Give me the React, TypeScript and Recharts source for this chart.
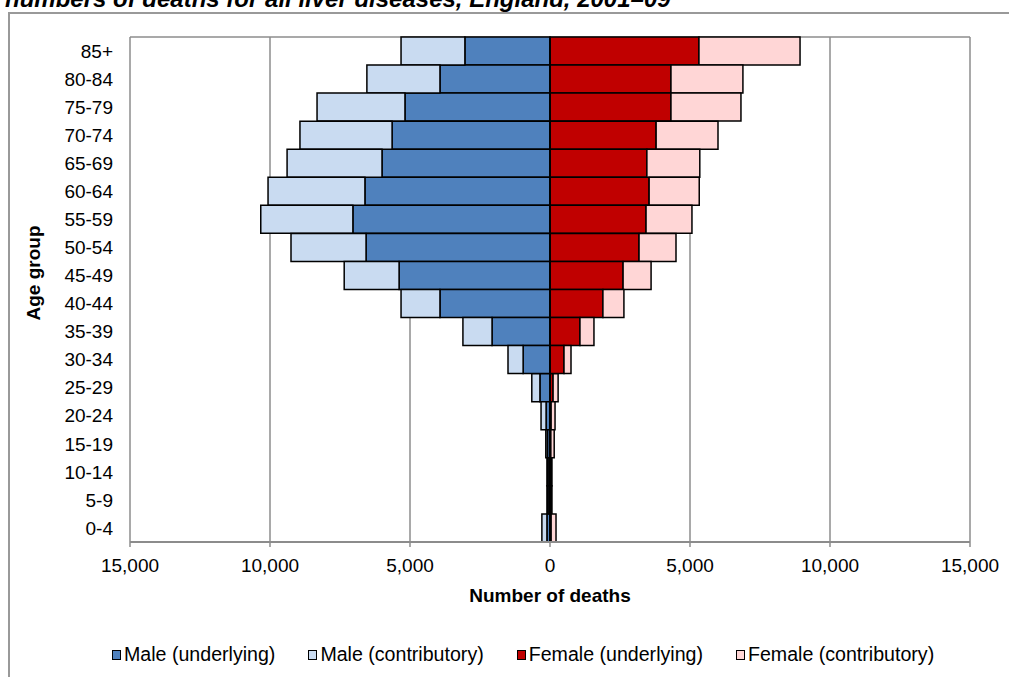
import React from 'react';
import {
  BarChart,
  Bar,
  XAxis,
  YAxis,
  CartesianGrid,
  ReferenceLine,
  Legend,
} from 'recharts';

const ageGroups = [
  '85+', '80-84', '75-79', '70-74', '65-69', '60-64', '55-59', '50-54', '45-49',
  '40-44', '35-39', '30-34', '25-29', '20-24', '15-19', '10-14', '5-9', '0-4',
];
const maleUnderlying = [3040, 3930, 5180, 5640, 6000, 6610, 7040, 6570, 5390, 3930, 2070, 960, 360, 140, 90, 70, 70, 110];
const maleContributory = [2280, 2610, 3140, 3290, 3390, 3460, 3290, 2680, 1960, 1390, 1040, 540, 290, 180, 60, 40, 40, 180];
const femaleUnderlying = [5320, 4320, 4320, 3790, 3460, 3540, 3430, 3180, 2610, 1890, 1070, 500, 110, 40, 30, 30, 30, 40];
const femaleContributory = [3610, 2570, 2500, 2210, 1890, 1790, 1640, 1320, 1000, 750, 500, 250, 180, 140, 120, 40, 40, 175];
const xTicks = [-15000, -10000, -5000, 0, 5000, 10000, 15000];

const seriesNames = ['Male (underlying)', 'Male (contributory)', 'Female (underlying)', 'Female (contributory)'];
const seriesColors = ['#4F81BD', '#C9DBF1', '#C00000', '#FFD6D6'];

const data = ageGroups.map((age, i) => ({
  age,
  mu: -maleUnderlying[i],
  mc: -maleContributory[i],
  fu: femaleUnderlying[i],
  fc: femaleContributory[i],
}));

const FONT = '"Liberation Sans", Arial, sans-serif';
const GRID = '#8c8c8c';

const fmt = (v: number) => Math.abs(v).toLocaleString('en-US');

const LegendContent = () => (
  <div style={{ display: 'flex', alignItems: 'center', fontFamily: FONT, fontSize: 19.6, color: '#000' }}>
    {seriesNames.map((n, i) => (
      <div key={n} style={{ display: 'flex', alignItems: 'center', marginRight: i < 3 ? 33 : 0 }}>
        <div style={{ width: 7, height: 8, background: seriesColors[i], border: '1px solid #000', marginRight: 3 }} />
        <span>{n}</span>
      </div>
    ))}
  </div>
);

export default function App() {
  return (
    <div style={{ position: 'absolute', left: 0, top: 0, width: 1009, height: 677, overflow: 'hidden', background: '#fff' }}>
      <div style={{ position: 'absolute', left: 8, top: 12, width: 1100, height: 800, border: '2px solid #999', boxSizing: 'border-box' }} />
      <svg width={1009} height={30} style={{ position: 'absolute', left: 0, top: 0 }}>
        <text x={5} y={7} fontFamily={FONT} fontSize={24} fontWeight="bold" fontStyle="italic" fill="#000">
          numbers of deaths for all liver diseases, England, 2001–09
        </text>
      </svg>
      <div style={{ position: 'absolute', left: 0, top: 0 }}>
        <BarChart
          width={1009}
          height={677}
          data={data}
          layout="vertical"
          stackOffset="sign"
          barCategoryGap={0}
          margin={{ top: 37, right: 39, left: 0, bottom: 0 }}
        >
          <CartesianGrid
            stroke={GRID}
            strokeWidth={1.5}
            vertical={true}
            horizontal={true}
            horizontalCoordinatesGenerator={({ offset }: any) => [offset.top]}
          />
          <XAxis
            type="number"
            domain={[-15000, 15000]}
            ticks={xTicks}
            tickFormatter={fmt}
            height={135}
            stroke={GRID}
            axisLine={{ stroke: GRID, strokeWidth: 2 }}
            tickLine={{ stroke: GRID, strokeWidth: 1.5 }}
            tickSize={5}
            tickMargin={12}
            tick={{ fill: '#000', fontSize: 19, fontFamily: FONT }}
            label={({ viewBox }: any) => (
              <text
                x={viewBox.x + viewBox.width / 2}
                y={602}
                textAnchor="middle"
                fontFamily={FONT}
                fontSize={19}
                fontWeight="bold"
                fill="#000"
              >
                Number of deaths
              </text>
            )}
          />
          <YAxis
            type="category"
            dataKey="age"
            width={130}
            axisLine={false}
            tickLine={false}
            tickMargin={11}
            interval={0}
            tick={{ fill: '#000', fontSize: 19, fontFamily: FONT }}
            label={() => (
              <text
                x={40}
                y={273}
                transform="rotate(-90 40 273)"
                textAnchor="middle"
                fontFamily={FONT}
                fontSize={19}
                fontWeight="bold"
                fill="#000"
              >
                Age group
              </text>
            )}
          />
          <Legend
            layout="horizontal"
            verticalAlign="middle"
            align="center"
            wrapperStyle={{ top: 643, left: 112, width: 890 }}
            content={() => <LegendContent />}
          />
          <Bar dataKey="mu" name={seriesNames[0]} stackId="s" fill={seriesColors[0]} stroke="#000" strokeWidth={1.5} isAnimationActive={false} />
          <Bar dataKey="mc" name={seriesNames[1]} stackId="s" fill={seriesColors[1]} stroke="#000" strokeWidth={1.5} isAnimationActive={false} />
          <Bar dataKey="fu" name={seriesNames[2]} stackId="s" fill={seriesColors[2]} stroke="#000" strokeWidth={1.5} isAnimationActive={false} />
          <Bar dataKey="fc" name={seriesNames[3]} stackId="s" fill={seriesColors[3]} stroke="#000" strokeWidth={1.5} isAnimationActive={false} />
          <ReferenceLine x={0} stroke="#000" strokeWidth={2} />
        </BarChart>
      </div>
    </div>
  );
}
